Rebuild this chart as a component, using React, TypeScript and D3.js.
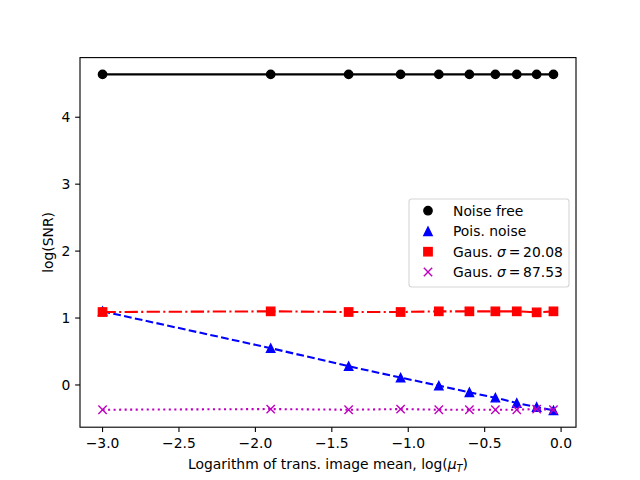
import React from 'react';
import * as d3 from 'd3';

// values
const xVals = [-3.0, -1.9, -1.39, -1.05, -0.8, -0.6, -0.43, -0.29, -0.16, -0.05];
const noiseFree = [4.64, 4.64, 4.64, 4.64, 4.64, 4.64, 4.64, 4.64, 4.64, 4.64];
const poisNoise = [1.1, 0.55, 0.28, 0.11, -0.01, -0.11, -0.19, -0.27, -0.33, -0.38];
const gausLow = [1.09, 1.1, 1.09, 1.09, 1.1, 1.1, 1.1, 1.1, 1.085, 1.1];
const gausHigh = [-0.37, -0.36, -0.37, -0.36, -0.37, -0.37, -0.37, -0.37, -0.36, -0.37];
const xTicks = [-3.0, -2.5, -2.0, -1.5, -1.0, -0.5, 0.0];
const yTicks = [0, 1, 2, 3, 4];

const W = 640;
const H = 480;
const margin = { top: 57.6, right: 64, bottom: 52.8, left: 80 };
const FONT = '"DejaVu Sans", sans-serif';
const FS = 13.89;
const MS = 8.33; // marker size
const MEW = 1.39; // marker edge width
const LW = 2.08;

type Marker = 'circle' | 'triangle' | 'square' | 'x';

interface Series {
  label: React.ReactNode;
  values: number[];
  color: string;
  dash: string | null;
  marker: Marker;
}

const series: Series[] = [
  { label: 'Noise free', values: noiseFree, color: '#000000', dash: null, marker: 'circle' },
  { label: 'Pois. noise', values: poisNoise, color: '#0000ff', dash: '7.7,3.33', marker: 'triangle' },
  {
    label: (
      <>
        Gaus. <tspan fontStyle="italic">σ</tspan>
        {'\u2009=\u200920.08'}
      </>
    ),
    values: gausLow,
    color: '#ff0000',
    dash: '13.3,3.33,2.08,3.33',
    marker: 'square',
  },
  {
    label: (
      <>
        Gaus. <tspan fontStyle="italic">σ</tspan>
        {'\u2009=\u200987.53'}
      </>
    ),
    values: gausHigh,
    color: '#bf00bf',
    dash: '2.08,3.44',
    marker: 'x',
  },
];

const drawMarker = (m: Marker, x: number, y: number, color: string, key: string) => {
  const h = MS / 2;
  switch (m) {
    case 'circle':
      return <circle key={key} cx={x} cy={y} r={h} fill={color} stroke={color} strokeWidth={MEW} />;
    case 'triangle':
      return (
        <path
          key={key}
          d={`M${x},${y - h}L${x - h},${y + h}L${x + h},${y + h}Z`}
          fill={color}
          stroke={color}
          strokeWidth={MEW}
          strokeLinejoin="miter"
        />
      );
    case 'square':
      return <rect key={key} x={x - h} y={y - h} width={MS} height={MS} fill={color} stroke={color} strokeWidth={MEW} />;
    case 'x':
      return (
        <path
          key={key}
          d={`M${x - h},${y - h}L${x + h},${y + h}M${x - h},${y + h}L${x + h},${y - h}`}
          fill="none"
          stroke={color}
          strokeWidth={MEW}
        />
      );
  }
};

const App: React.FC = () => {
  const x0 = margin.left;
  const x1 = W - margin.right;
  const y0 = H - margin.bottom;
  const y1 = margin.top;

  const [xmin, xmax] = d3.extent(xVals) as [number, number];
  const xPad = (xmax - xmin) * 0.05;
  const xScale = d3.scaleLinear().domain([xmin - xPad, xmax + xPad]).range([x0, x1]);

  const allY = series.flatMap(s => s.values);
  const [ymin, ymax] = d3.extent(allY) as [number, number];
  const yPad = (ymax - ymin) * 0.05;
  const yScale = d3.scaleLinear().domain([ymin - yPad, ymax + yPad]).range([y0, y1]);

  const fmtX = d3.format('.1f');
  const tickLen = 4.86;

  const line = d3
    .line<number>()
    .x((_, i) => xScale(xVals[i]))
    .y(d => yScale(d));

  // legend layout
  const legX = 409;
  const legY = 199;
  const legW = 160;
  const legH = 88;
  const rowY = [210.7, 231.3, 251.7, 272];

  return (
    <svg
      width={W}
      height={H}
      style={{ position: 'absolute', left: 0, top: 0, background: '#ffffff' }}
      fontFamily={FONT}
      fontSize={FS}
    >
      <rect x={0} y={0} width={W} height={H} fill="#ffffff" />

      <defs>
        <clipPath id="plot-area">
          <rect x={x0} y={y1} width={x1 - x0} height={y0 - y1} />
        </clipPath>
      </defs>

      {/* series */}
      <g clipPath="url(#plot-area)">
        {series.map((s, si) => (
          <g key={si}>
            <path
              d={line(s.values) ?? ''}
              fill="none"
              stroke={s.color}
              strokeWidth={LW}
              strokeDasharray={s.dash ?? undefined}
              strokeLinecap={s.dash ? 'butt' : 'square'}
            />
            {s.values.map((v, i) => drawMarker(s.marker, xScale(xVals[i]), yScale(v), s.color, `${si}-${i}`))}
          </g>
        ))}
      </g>

      {/* spines */}
      <rect x={x0} y={y1} width={x1 - x0} height={y0 - y1} fill="none" stroke="#000" strokeWidth={1.11} />

      {/* x axis */}
      {xTicks.map(t => (
        <g key={`xt${t}`}>
          <line x1={xScale(t)} x2={xScale(t)} y1={y0} y2={y0 + tickLen} stroke="#000" strokeWidth={1.11} />
          <text x={xScale(t)} y={y0 + 20.5} textAnchor="middle" fill="#000">
            {fmtX(t)}
          </text>
        </g>
      ))}

      {/* y axis */}
      {yTicks.map(t => (
        <g key={`yt${t}`}>
          <line x1={x0 - tickLen} x2={x0} y1={yScale(t)} y2={yScale(t)} stroke="#000" strokeWidth={1.11} />
          <text x={x0 - 9.7} y={yScale(t) + 5} textAnchor="end" fill="#000">
            {t}
          </text>
        </g>
      ))}

      {/* axis labels */}
      <text x={(x0 + x1) / 2} y={469} textAnchor="middle" fill="#000">
        Logarithm of trans. image mean, log(<tspan fontStyle="italic">μ</tspan>
        <tspan fontStyle="italic" fontSize={FS * 0.7} dy={2.5}>
          T
        </tspan>
        <tspan dy={-2.5}>)</tspan>
      </text>
      <text transform={`translate(52.5,${(y0 + y1) / 2}) rotate(-90)`} textAnchor="middle" fill="#000">
        log(SNR)
      </text>

      {/* legend */}
      <rect
        x={legX}
        y={legY}
        width={legW}
        height={legH}
        rx={2.7}
        fill="#ffffff"
        fillOpacity={0.8}
        stroke="#d6d6d6"
        strokeWidth={1.11}
      />
      {series.map((s, i) => (
        <g key={`leg${i}`}>
          {drawMarker(s.marker, 428, rowY[i], s.color, `lm${i}`)}
          <text x={453} y={rowY[i] + 5} fill="#000">
            {s.label}
          </text>
        </g>
      ))}
    </svg>
  );
};

export default App;
